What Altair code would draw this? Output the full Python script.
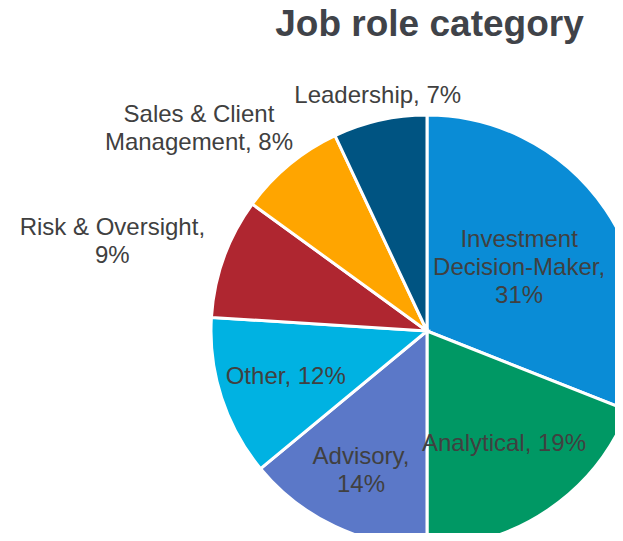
import altair as alt
import pandas as pd

# ---- data ----
categories = ["Investment Decision-Maker", "Analytical", "Advisory", "Other",
              "Risk & Oversight", "Sales & Client Management", "Leadership"]
shares = [31, 19, 14, 12, 9, 8, 7]
label_text = ["Investment\nDecision-Maker,\n31%", "Analytical, 19%", "Advisory,\n14%",
              "Other, 12%", "Risk & Oversight,\n9%", "Sales & Client\nManagement, 8%",
              "Leadership, 7%"]
colors = ["#0A8CD6", "#009864", "#5B78C8", "#00B2E2", "#AF2630", "#FFA500", "#005482"]
title_text = ["Job role category"]

df = pd.DataFrame({
    "category": categories,
    "share": shares,
    "label": label_text,
    "order": list(range(len(categories))),
})

# ---- layout (style) ----
W, H = 607, 525
CX, CY = 419, 323
R = 216
R_IN = 155
FIT = 210
GAP = 10
FONT = "Liberation Sans"
FS = 24
LH = 28
CHAR_W = 12
TEXT_COLOR = "#404040"

base = alt.Chart(df)

arcs = base.mark_arc(stroke="white", strokeWidth=3, radius=R).encode(
    theta=alt.Theta("share:Q", stack=True),
    color=alt.Color("category:N", scale=alt.Scale(domain=categories, range=colors), legend=None),
    order=alt.Order("order:Q", sort="ascending"),
    x=alt.value(CX),
    y=alt.value(CY),
)

labels = base.transform_window(
    cum="sum(share)", sort=[alt.SortField("order", order="ascending")], frame=[None, 0]
).transform_joinaggregate(
    total="sum(share)"
).transform_calculate(
    mid="(datum.cum - datum.share / 2) / datum.total * 2 * PI",
    lines="split(datum.label, '\\n')",
).transform_calculate(
    s="sin(datum.mid)",
    c="cos(datum.mid)",
    n="length(datum.lines)",
    inside="datum.share >= 10",
).transform_calculate(
    maxlen="max(length(datum.lines[0]), datum.n > 1 ? length(datum.lines[1]) : 0, datum.n > 2 ? length(datum.lines[2]) : 0)",
    fx="clamp((abs(datum.s) - 0.3) / 0.3, 0, 1) * (datum.s < 0 ? -1 : 1)",
    gy="min(1, abs(datum.c) / 0.75) * (datum.c < 0 ? -1 : 1)",
).transform_calculate(
    halfW=f"datum.maxlen * {CHAR_W} / 2",
    halfH=f"datum.n * {LH} / 2",
).transform_calculate(
    b="datum.halfW * abs(datum.s) + datum.halfH * abs(datum.c)",
    k=f"datum.halfW * datum.halfW + datum.halfH * datum.halfH - {FIT * FIT}",
).transform_calculate(
    rfit="sqrt(datum.b * datum.b - datum.k) - datum.b",
).transform_calculate(
    rr=f"datum.inside ? min({R_IN}, datum.rfit) : {R + GAP}",
).transform_calculate(
    ax=f"{CX} + datum.rr * datum.s",
    ay=f"{CY} - datum.rr * datum.c",
).transform_calculate(
    lx="datum.inside ? datum.ax : datum.ax + datum.halfW * datum.fx",
    lyc="datum.inside ? datum.ay : datum.ay - datum.halfH * datum.gy",
).transform_calculate(
    ly=f"datum.lyc - (datum.n - 1) * {LH} / 2",
).mark_text(
    font=FONT, fontSize=FS, color=TEXT_COLOR, lineBreak="\n", lineHeight=LH,
    align="center", baseline="middle",
).encode(
    x=alt.X("lx:Q", scale=None),
    y=alt.Y("ly:Q", scale=None),
    text="label:N",
)

title = alt.Chart(pd.DataFrame({"t": title_text})).mark_text(
    font=FONT, fontSize=37, fontWeight="bold", color="#404349",
    align="center", baseline="alphabetic",
).encode(text="t:N", x=alt.value(421.5), y=alt.value(28))

chart = alt.layer(arcs, labels, title).properties(
    width=W, height=H, padding=0, autosize=alt.AutoSizeParams(type="none")
).configure_view(stroke=None)

chart.save("out.html", embed_options={"renderer": "svg", "actions": False})
